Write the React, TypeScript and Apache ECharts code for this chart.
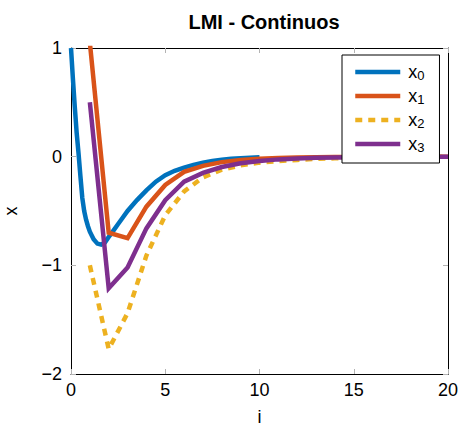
import React, { useEffect, useRef } from "react";
import * as echarts from "echarts";

const FONT = "'Liberation Sans', Arial, Helvetica, sans-serif";

// x0: continuous response, sampled finely
const x0Time = [0, 0.1, 0.2, 0.3, 0.4, 0.5, 0.6, 0.7, 0.8, 0.9, 1.0, 1.2, 1.4, 1.6, 1.8, 2.0, 2.25, 2.5, 2.75, 3.0, 3.5, 4.0, 4.5, 5.0, 5.5, 6, 6.5, 7, 7.5, 8, 8.5, 9, 9.5, 10];
const x0Values = [1.0, 0.72, 0.46, 0.22, 0.03, -0.18, -0.38, -0.5, -0.58, -0.64, -0.69, -0.76, -0.8, -0.81, -0.79, -0.74, -0.68, -0.62, -0.56, -0.5, -0.4, -0.31, -0.23, -0.17, -0.13, -0.1, -0.075, -0.055, -0.04, -0.028, -0.02, -0.014, -0.01, -0.006];

// discrete sequences, i = 1..20
const steps = [1, 2, 3, 4, 5, 6, 7, 8, 9, 10, 11, 12, 13, 14, 15, 16, 17, 18, 19, 20];
const x1Values = [1.05, -0.7, -0.75, -0.46, -0.26, -0.14, -0.085, -0.05, -0.03, -0.02, -0.012, -0.008, -0.005, -0.003, -0.002, -0.001, -0.001, 0, 0, 0];
const x2Values = [-1.0, -1.77, -1.44, -0.91, -0.54, -0.32, -0.19, -0.12, -0.08, -0.055, -0.04, -0.03, -0.02, -0.015, -0.01, -0.007, -0.005, -0.003, -0.002, -0.001];
const x3Values = [0.5, -1.21, -1.02, -0.66, -0.4, -0.23, -0.15, -0.095, -0.06, -0.04, -0.025, -0.016, -0.01, -0.007, -0.005, -0.003, -0.002, -0.001, -0.001, 0];

const seriesNames = ["x0", "x1", "x2", "x3"];
const colors = ["#0072BD", "#D95319", "#EDB120", "#7E2F8E"];

const xTicks = { min: 0, max: 20, interval: 5 };
const yTicks = { min: -2, max: 1, interval: 1 };

export default function App() {
  const ref = useRef<HTMLDivElement>(null);
  useEffect(() => {
    if (!ref.current) return;
    const chart = echarts.init(ref.current, null, { renderer: "svg" });
    const pair = (xs: number[], ys: number[]) => xs.map((x, i) => [x, ys[i]]);
    const tickStyle = { show: true, inside: true, length: 5, lineStyle: { color: "#b3b3b3", width: 1 } };
    const axisLine = { show: true, onZero: false, lineStyle: { color: "#000", width: 1 } };
    const dataSets = [pair(x0Time, x0Values), pair(steps, x1Values), pair(steps, x2Values), pair(steps, x3Values)];
    chart.setOption({
      animation: false,
      backgroundColor: "#fff",
      textStyle: { fontFamily: FONT },
      title: {
        text: "LMI - Continuos",
        left: 259,
        textAlign: "center",
        top: 7,
        textStyle: { fontFamily: FONT, fontWeight: "bold", fontSize: 20, color: "#000" },
      },
      grid: { left: 71, top: 48, width: 377, height: 326, containLabel: false, outerBoundsMode: "none" },
      xAxis: [
        {
          type: "value",
          position: "bottom",
          ...xTicks,
          axisLine,
          axisTick: tickStyle,
          splitLine: { show: false },
          axisLabel: { fontSize: 18, color: "#000", margin: 7, fontFamily: FONT },
          name: "i",
          nameLocation: "middle",
          nameGap: 34,
          nameTextStyle: { fontSize: 18, color: "#000", fontFamily: FONT },
        },
        {
          type: "value",
          position: "top",
          ...xTicks,
          axisLine,
          axisTick: tickStyle,
          splitLine: { show: false },
          axisLabel: { show: false },
        },
      ],
      yAxis: [
        {
          type: "value",
          position: "left",
          ...yTicks,
          axisLine,
          axisTick: tickStyle,
          splitLine: { show: false },
          axisLabel: {
            fontSize: 18,
            color: "#000",
            margin: 9,
            fontFamily: FONT,
            formatter: (v: number) => (v < 0 ? "\u2212" + Math.abs(v) : String(v)),
          },
          name: "x",
          nameLocation: "middle",
          nameRotate: 90,
          nameGap: 51,
          nameTextStyle: { fontSize: 18, color: "#000", fontFamily: FONT },
        },
        {
          type: "value",
          position: "right",
          ...yTicks,
          axisLine,
          axisTick: tickStyle,
          splitLine: { show: false },
          axisLabel: { show: false },
        },
      ],
      legend: {
        orient: "vertical",
        left: 342,
        top: 55,
        data: seriesNames,
        backgroundColor: "#fff",
        borderColor: "#000",
        borderWidth: 1,
        borderRadius: 0,
        padding: [8, 15, 9, 11],
        itemWidth: 45,
        itemHeight: 14,
        itemGap: 5,
        itemStyle: { opacity: 0 },
        lineStyle: { width: 4.5 },
        formatter: (name: string) => `{x|x}{s|${name.slice(1)}}`,
        textStyle: {
          fontFamily: FONT,
          color: "#000",
          rich: {
            x: { fontSize: 18, lineHeight: 20, verticalAlign: "middle", color: "#000", fontFamily: FONT, padding: [0, 0, 0, 3] },
            s: { fontSize: 13, lineHeight: 13, verticalAlign: "bottom", color: "#000", fontFamily: FONT },
          },
        },
      },
      series: seriesNames.map((name, i) => ({
        name,
        type: "line",
        xAxisIndex: 0,
        yAxisIndex: 0,
        data: dataSets[i],
        showSymbol: false,
        symbol: "none",
        clip: true,
        color: colors[i],
        lineStyle: {
          color: colors[i],
          width: 4.5,
          type: i === 2 ? [7, 6] : "solid",
          cap: "butt",
          join: "miter",
        },
      })),
    });
    return () => chart.dispose();
  }, []);
  return <div ref={ref} style={{ position: "fixed", left: 0, top: 0, width: 462, height: 427 }} />;
}
